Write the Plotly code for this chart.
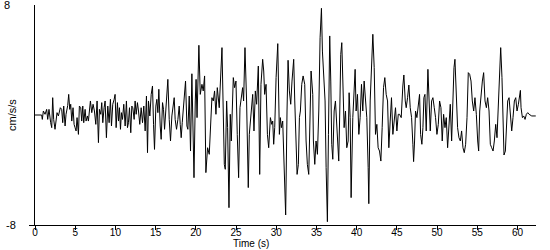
import plotly.graph_objects as go

# Time (s) of each read-off turning point
time_s = [
    0.00, 0.83, 0.91, 1.04, 1.25, 1.45, 1.58, 1.74, 1.95, 2.08, 2.20, 2.32, 2.49, 2.62, 2.74, 2.91,
    3.03, 3.15, 3.32, 3.45, 3.57, 3.74, 3.86, 4.07, 4.19, 4.32, 4.44, 4.57, 4.73, 4.86, 4.98, 5.11,
    5.23, 5.40, 5.52, 5.69, 5.81, 5.94, 6.06, 6.23, 6.35, 6.52, 6.64, 6.77, 6.89, 7.06, 7.22, 7.39,
    7.56, 7.72, 7.89, 8.01, 8.18, 8.30, 8.43, 8.59, 8.72, 8.88, 9.05, 9.22, 9.38, 9.51, 9.67, 9.84,
    9.96, 10.09, 10.25, 10.38, 10.50, 10.63, 10.75, 10.88, 11.04, 11.21, 11.37, 11.50, 11.62, 11.75,
    11.91, 12.04, 12.16, 12.33, 12.45, 12.58, 12.74, 12.87, 13.03, 13.20, 13.37, 13.53, 13.70, 13.86,
    13.99, 14.11, 14.28, 14.45, 14.61, 14.74, 14.86, 15.03, 15.15, 15.28, 15.40, 15.57, 15.69, 15.86,
    15.98, 16.11, 16.27, 16.40, 16.52, 16.69, 16.85, 17.02, 17.14, 17.31, 17.43, 17.60, 17.77, 17.93,
    18.06, 18.18, 18.31, 18.43, 18.60, 18.72, 18.89, 19.01, 19.18, 19.34, 19.51, 19.64, 19.77, 19.93,
    20.03, 20.15, 20.27, 20.38,
    20.55, 20.76, 20.92, 21.09, 21.25, 21.46, 21.67, 21.84, 22.00, 22.17, 22.33, 22.50, 22.67,
    22.91, 23.08, 23.25, 23.54, 23.66, 23.83, 23.95, 24.12, 24.28, 24.41, 24.66, 24.82, 24.99, 25.15,
    25.32, 25.49, 25.65, 25.82, 25.94, 26.11, 26.31, 26.52, 26.65, 26.86, 27.07, 27.23, 27.40, 27.56,
    27.77, 27.94, 28.10, 28.31, 28.44, 28.56, 28.73, 28.90, 29.06, 29.27, 29.44, 29.56, 29.68, 29.81,
    29.98, 30.19, 30.30, 30.39, 30.51, 30.64, 30.80, 30.97, 31.17, 31.34, 31.47, 31.63, 31.80, 31.96,
    32.17, 32.30, 32.46, 32.59, 32.75, 32.88, 33.00, 33.17, 33.34, 33.54, 33.71, 33.87, 34.04, 34.21,
    34.33, 34.54,
    34.62, 34.79, 34.95, 35.12, 35.29, 35.45, 35.62, 35.74, 35.91, 36.07, 36.20, 36.36, 36.49, 36.65,
    36.78, 36.90, 37.03, 37.20, 37.36, 37.53, 37.77, 37.90, 38.02, 38.15, 38.27, 38.44, 38.61, 38.77,
    38.94, 39.06, 39.19, 39.31, 39.52, 39.68, 39.81, 39.93, 40.10, 40.27, 40.43, 40.60, 40.76, 40.93,
    41.10, 41.26, 41.43, 41.51, 41.68, 41.84, 42.01, 42.18, 42.34, 42.51, 42.67, 42.84, 43.01, 43.17,
    43.34, 43.50, 43.67, 43.84, 44.00, 44.17, 44.33, 44.50, 44.67, 44.83, 45.00, 45.17,
    45.33, 45.54, 45.74, 45.87, 46.04, 46.16, 46.33, 46.49, 46.66, 46.83, 46.99, 47.08, 47.20, 47.32,
    47.49, 47.66, 47.82, 47.95, 48.11, 48.24, 48.36, 48.49, 48.65, 48.86, 48.98, 49.15, 49.32, 49.48,
    49.65, 49.81, 49.98, 50.15, 50.31, 50.48, 50.64, 50.81, 50.98, 51.14, 51.31, 51.47, 51.64, 51.81,
    51.97, 52.10, 52.22, 52.39, 52.55, 52.72, 52.89, 53.05, 53.22, 53.38, 53.55, 53.72, 53.88, 54.05,
    54.22, 54.38, 54.55, 54.71, 54.88, 55.05, 55.17, 55.30, 55.46, 55.63, 55.79, 55.96, 56.13, 56.29,
    56.46, 56.62, 56.79, 56.96,
    57.12, 57.29, 57.45, 57.62, 57.78, 57.91, 58.07, 58.20, 58.32, 58.49, 58.61, 58.78, 58.95, 59.11,
    59.28, 59.44, 59.61, 59.78, 59.94, 60.11, 60.36, 60.44, 60.61, 60.77, 60.94, 61.10, 61.27, 61.44,
    61.77, 62.27,
]

# Acceleration (cm/s/s) at each time
accel = [
    0.00, 0.00, -0.32, 0.29, 0.05, 0.41, -0.32, 0.41, -0.56, -0.92, 1.26, -0.32, -1.04, -0.19, 0.17, -0.07,
    0.41, 0.53, 0.41, -0.56, 0.65, -0.80, 0.05, 0.70, 1.50, 0.41, 0.78, -0.44, 0.53, -0.68, -0.92, -1.16,
    -0.19, -1.41, 0.65, 0.53, -0.44, 0.65, -0.56, 0.41, -0.44, -0.07, -0.44, 0.17, 1.02, 0.17, 0.78, 0.29,
    -0.68, 1.02, -2.01, 0.41, 0.05, 0.90, -0.56, 0.53, 1.02, -1.65, 0.65, -0.56, 1.14, -0.80, 0.78, 1.14,
    1.50, -0.92, 0.90, -0.44, 0.53, -1.04, 0.17, -0.32, 0.78, -0.80, 1.02, -0.92, -0.56, 0.53,
    -1.29, 0.65, 0.53, -0.32, 1.02, 0.05, 0.90, 0.29, -0.68, 0.53, -0.56, 0.65, -1.16, 1.38,
    -2.74, 1.02, -0.07, 1.50, 2.11, -0.68, -2.50, 0.65, 1.14, 0.17, 1.87, -0.80, -1.77, 0.90,
    0.41, -1.04, 0.41, 1.50, 2.59, -0.32, -1.89, -0.07, 0.65, 1.26, -0.32, -1.04, -0.32, 0.65,
    -0.68, -1.65, -0.56, 0.41, 2.11, 2.47, -0.80, -1.04, 1.38, -2.62, 3.00, -2.38, -4.56, 1.02,
    2.59, -0.19, 2.47, 5.07,
    1.50, 2.23, 1.75, 2.84, -4.19, -2.38, -2.86, -0.19, 1.26, 1.02, 1.75, 0.05, 1.99,
    0.53, 3.44, 4.90, -3.59, -3.95, 1.02, -0.92, -6.74, 0.05, -1.89, 2.72, 1.99, 2.47, -1.41,
    -4.56, 0.53, 1.50, 1.99, 1.02, 4.90, 1.02, -5.28, -1.41, 0.29, 1.50, -1.16, 1.75, 0.78,
    3.56, -4.32, 2.23, 4.05, 3.20, 1.50, 2.23, -1.41, -2.38, -0.19, -0.68, -0.44, -2.13, -0.92,
    2.72, 5.19, 1.99, -1.41, -0.19, -0.92, -0.44, -3.83, -7.27, 0.29, 3.98, 1.75, 0.78, 2.47,
    4.05, 1.02, -3.10, -4.32, -3.59, -0.19, 0.29, 2.23, 2.84, 2.23, -1.89, -3.59, -4.32, 1.02,
    3.20, 1.50,
    -1.89, -3.59, -1.89, -2.86, 0.29, 5.62, 7.76, 4.65, 2.47, 1.02, -3.83, -7.76, -1.41, 5.75,
    2.47, -2.13, -3.22, 0.29, 1.02, -1.16, -3.35, 0.29, 4.41, 5.26, 2.23, -0.92, 0.29, -2.38,
    -1.89, 1.62, -0.19, -6.01, -0.19, 1.75, 3.32, 0.29, 1.50, -1.41, -0.19, 2.23, 0.29, 2.47,
    1.02, -0.19, -3.83, -6.45, 1.02, 3.93, 5.87, 3.44, -1.41, -0.68, -2.38, -2.62, -3.35, -0.92,
    1.99, 2.72, 1.50, 1.02, -2.38, -0.44, 1.26, -1.41, -0.44, 0.53, -1.16, 0.05,
    0.05, -0.19, 2.11, 2.91, 1.02, 0.53, 1.26, 2.18, 0.53, -0.19, -2.13, -3.39, -1.89, 0.29,
    -0.19, 1.02, 1.50, -1.41, -2.13, -0.92, 1.26, 1.50, -1.16, 3.32, 1.02, -1.16, 1.02, 1.26,
    0.53, -0.19, -1.41, -0.68, 1.02, 0.53, -1.89, 0.05, -0.92, -0.19, -2.38, -0.92, 0.78, -1.89,
    1.75, 3.44, 4.05, 1.75, -0.92, -1.65, -1.89, -1.16, -2.38, -2.74, -2.13, -0.19, 3.08, 2.96,
    2.47, 1.02, 0.29, 1.26, 0.05, -1.89, -2.62, 0.29, 1.50, 2.47, 3.08, 1.02, 0.53, 1.26,
    0.29, -2.13, -2.38, -2.62,
    -1.89, -0.68, -1.65, 1.02, 2.23, 4.90, 2.72, -1.41, -2.91, -2.62, -1.41, 1.02, 1.26, 0.29,
    -1.16, -0.19, 1.02, 1.26, 0.29, 0.78, 1.79, 0.53, -0.19, -0.07, -0.32, 0.05, 0.17, 0.05,
    -0.07, -0.07,
]

x_ticks = [0, 5, 10, 15, 20, 25, 30, 35, 40, 45, 50, 55, 60]
y_labels = ["8", "-8"]
y_label_values = [8, -8]
y_label_px = [7, 11]          # horizontal pixel centre of each y label

FONT = "Liberation Sans, Arial, sans-serif"
L, PW = 35, 501               # left margin and plot width in px

fig = go.Figure()
fig.add_trace(go.Scatter(
    x=time_s, y=accel, mode="lines",
    line=dict(color="black", width=1),
    hoverinfo="skip", showlegend=False,
))

annotations = []
for lab, val, px in zip(y_labels, y_label_values, y_label_px):
    annotations.append(dict(
        x=(px - L) / PW, xref="paper", y=val, yref="y",
        text=lab, showarrow=False, xanchor="center", yanchor="middle",
        font=dict(family=FONT, size=11, color="black"),
    ))
annotations.append(dict(
    x=(12 - L) / PW, xref="paper", y=0, yref="y", text="cm/s/s", textangle=-90,
    showarrow=False, xanchor="center", yanchor="middle",
    font=dict(family=FONT, size=11, color="black"),
))
annotations.append(dict(
    x=(251 - L) / PW, xref="paper", y=0, yref="paper", yshift=-25,
    text="Time (s)", showarrow=False, xanchor="center", yanchor="bottom",
    borderpad=0, font=dict(family=FONT, size=10, color="black"),
))

fig.update_layout(
    width=550, height=250,
    margin=dict(l=L, r=550 - L - PW, t=5, b=25),
    paper_bgcolor="white", plot_bgcolor="white",
    xaxis=dict(
        range=[0, 62.3], tickvals=x_ticks, ticks="outside", ticklen=4, tickwidth=1,
        tickcolor="black", showline=True, linecolor="black", linewidth=1,
        showgrid=False, zeroline=False, ticklabelstandoff=-6,
        tickfont=dict(family=FONT, size=10, color="black"),
    ),
    yaxis=dict(
        range=[-8, 8], tickvals=[-8], ticks="outside", ticklen=5, tickwidth=1,
        tickcolor="black", showticklabels=False, showline=True, linecolor="black",
        linewidth=1, showgrid=False, zeroline=False,
    ),
    annotations=annotations,
)

fig.write_html("out.html")
